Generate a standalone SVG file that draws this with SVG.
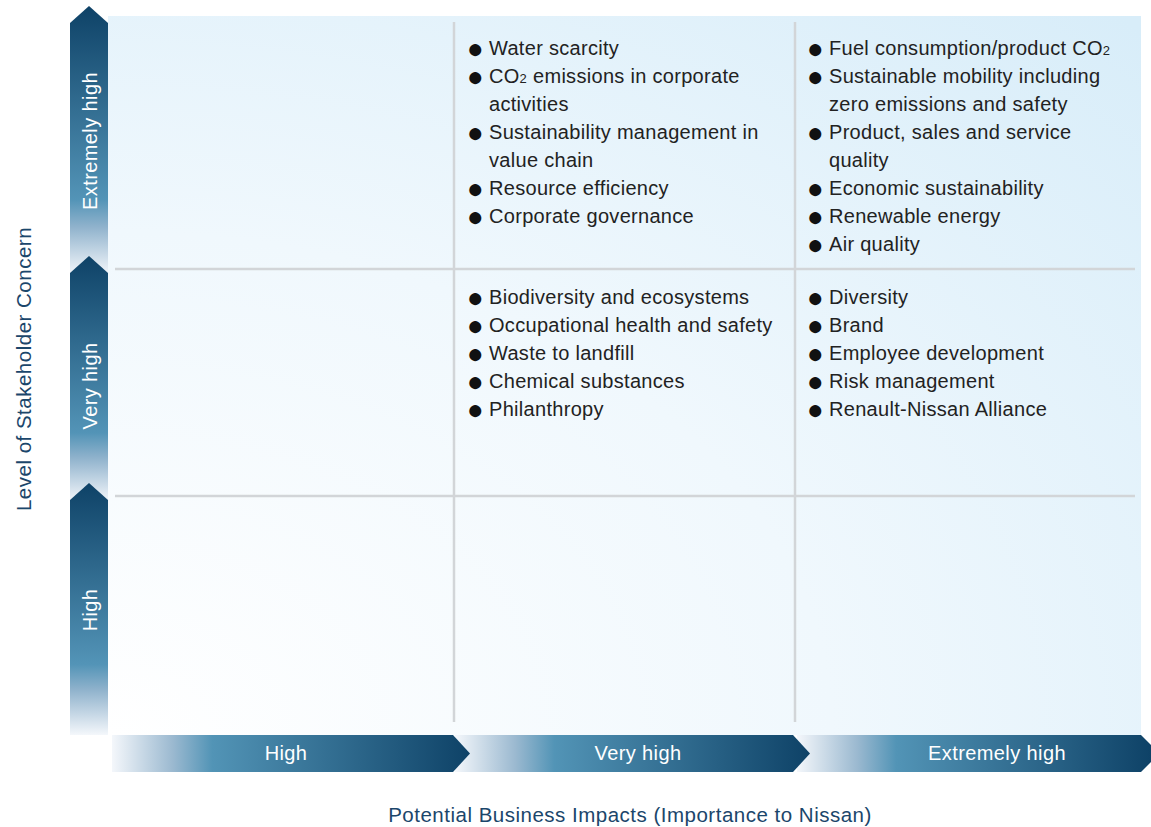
<svg xmlns="http://www.w3.org/2000/svg" width="1151" height="827" viewBox="0 0 1151 827">
<defs>
<radialGradient id="bg" cx="0" cy="1" r="1.4" gradientUnits="objectBoundingBox">
<stop offset="0" stop-color="#ffffff"/>
<stop offset="0.5" stop-color="#f0f8fd"/>
<stop offset="1" stop-color="#d8edf9"/>
</radialGradient>
<linearGradient id="vg" x1="0" y1="0" x2="0" y2="1">
<stop offset="0" stop-color="#0e4267"/>
<stop offset="0.72" stop-color="#5394b7"/>
<stop offset="0.82" stop-color="#8fb2cc"/>
<stop offset="1" stop-color="#f4f7fb"/>
</linearGradient>
<linearGradient id="hg" x1="0" y1="0" x2="1" y2="0">
<stop offset="0" stop-color="#f4f7fb"/>
<stop offset="0.17" stop-color="#9bb9d0"/>
<stop offset="0.28" stop-color="#5294b6"/>
<stop offset="1" stop-color="#0e4267"/>
</linearGradient>
<style>
.t{font-family:"Liberation Sans",Arial,sans-serif;font-size:20px;letter-spacing:0.3px;fill:#222}
.b{font-family:"Liberation Sans",Arial,sans-serif;font-size:28px;fill:#111}
.w{font-family:"Liberation Sans",Arial,sans-serif;font-size:20px;letter-spacing:0.4px;fill:#ffffff}
.ax{font-family:"Liberation Sans",Arial,sans-serif;font-size:20.5px;letter-spacing:0.5px;fill:#1b466b}
.g{stroke:#d2d5d8;stroke-width:2.5;fill:none}
.s{font-size:13px}
</style>
</defs>
<rect x="108" y="16" width="1033" height="719" fill="url(#bg)"/>
<g id="grid">
<line class="g" x1="115" y1="269" x2="1135" y2="269"/>
<line class="g" x1="115" y1="496" x2="1135" y2="496"/>
<line class="g" x1="454" y1="22" x2="454" y2="722"/>
<line class="g" x1="795" y1="22" x2="795" y2="722"/>
</g>
<g id="yaxis">
<g id="y-extremely-high">
<polygon points="70,23 89,6 108,23 108,275 70,275" fill="url(#vg)"/>
<text class="w" transform="translate(97,141) rotate(-90)" text-anchor="middle">Extremely high</text>
</g>
<g id="y-very-high">
<polygon points="70,273 89,256 108,273 108,502 70,502" fill="url(#vg)"/>
<text class="w" transform="translate(97,386) rotate(-90)" text-anchor="middle">Very high</text>
</g>
<g id="y-high">
<polygon points="70,500 89,483 108,500 108,735 70,735" fill="url(#vg)"/>
<text class="w" transform="translate(97,610) rotate(-90)" text-anchor="middle">High</text>
</g>
<text class="ax" transform="translate(31,369) rotate(-90)" text-anchor="middle">Level of Stakeholder Concern</text>
</g>
<g id="xaxis">
<g id="x-extremely-high">
<polygon points="797,735 1141,735 1151,745 1151,762 1141,772 797,772" fill="url(#hg)"/>
<text class="w" x="997" y="760" text-anchor="middle">Extremely high</text>
</g>
<g id="x-very-high">
<polygon points="455,735 793,735 810,753.5 793,772 455,772" fill="url(#hg)"/>
<text class="w" x="638" y="760" text-anchor="middle">Very high</text>
</g>
<g id="x-high">
<polygon points="112,735 453,735 470,753.5 453,772 112,772" fill="url(#hg)"/>
<text class="w" x="286" y="760" text-anchor="middle">High</text>
</g>
<text class="ax" x="630" y="822" text-anchor="middle">Potential Business Impacts (Importance to Nissan)</text>
</g>
<g id="cell-vh-eh">
<text class="b" x="467" y="58">●</text><text class="t" x="489" y="55">Water scarcity</text>
<text class="b" x="467" y="86">●</text><text class="t" x="489" y="83">CO<tspan class="s">2</tspan> emissions in corporate</text>
<text class="t" x="489" y="111">activities</text>
<text class="b" x="467" y="142">●</text><text class="t" x="489" y="139">Sustainability management in</text>
<text class="t" x="489" y="167">value chain</text>
<text class="b" x="467" y="198">●</text><text class="t" x="489" y="195">Resource efficiency</text>
<text class="b" x="467" y="226">●</text><text class="t" x="489" y="223">Corporate governance</text>
</g>
<g id="cell-eh-eh">
<text class="b" x="807" y="58">●</text><text class="t" x="829" y="55">Fuel consumption/product CO<tspan class="s">2</tspan></text>
<text class="b" x="807" y="86">●</text><text class="t" x="829" y="83">Sustainable mobility including</text>
<text class="t" x="829" y="111">zero emissions and safety</text>
<text class="b" x="807" y="142">●</text><text class="t" x="829" y="139">Product, sales and service</text>
<text class="t" x="829" y="167">quality</text>
<text class="b" x="807" y="198">●</text><text class="t" x="829" y="195">Economic sustainability</text>
<text class="b" x="807" y="226">●</text><text class="t" x="829" y="223">Renewable energy</text>
<text class="b" x="807" y="254">●</text><text class="t" x="829" y="251">Air quality</text>
</g>
<g id="cell-vh-vh">
<text class="b" x="467" y="307">●</text><text class="t" x="489" y="304">Biodiversity and ecosystems</text>
<text class="b" x="467" y="335">●</text><text class="t" x="489" y="332">Occupational health and safety</text>
<text class="b" x="467" y="363">●</text><text class="t" x="489" y="360">Waste to landfill</text>
<text class="b" x="467" y="391">●</text><text class="t" x="489" y="388">Chemical substances</text>
<text class="b" x="467" y="419">●</text><text class="t" x="489" y="416">Philanthropy</text>
</g>
<g id="cell-eh-vh">
<text class="b" x="807" y="307">●</text><text class="t" x="829" y="304">Diversity</text>
<text class="b" x="807" y="335">●</text><text class="t" x="829" y="332">Brand</text>
<text class="b" x="807" y="363">●</text><text class="t" x="829" y="360">Employee development</text>
<text class="b" x="807" y="391">●</text><text class="t" x="829" y="388">Risk management</text>
<text class="b" x="807" y="419">●</text><text class="t" x="829" y="416">Renault-Nissan Alliance</text>
</g>
</svg>
